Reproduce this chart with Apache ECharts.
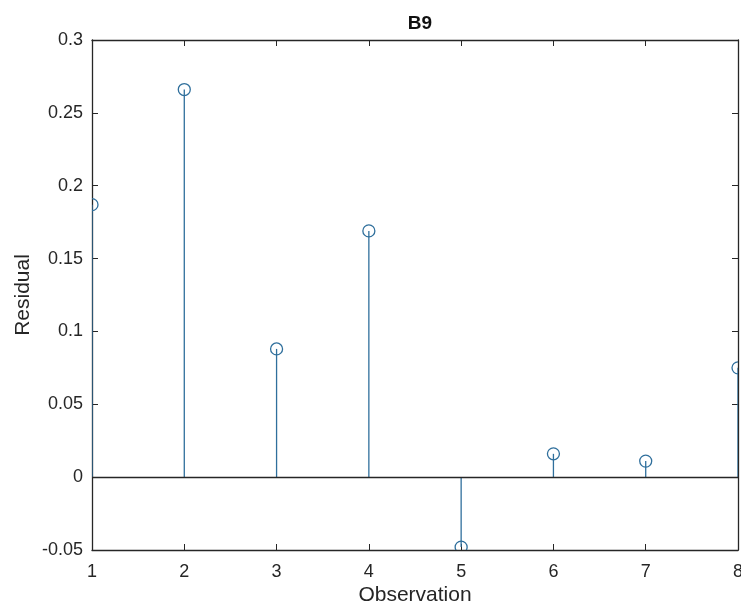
<!DOCTYPE html>
<html>
<head>
<meta charset="utf-8">
<script src="https://cdn.jsdelivr.net/npm/echarts@6/dist/echarts.min.js"></script>
<style>
html,body{margin:0;padding:0;background:#fff;}
#chart{width:741px;height:607px;}
</style>
</head>
<body>
<div id="chart"></div>
<script>
var observations = [1, 2, 3, 4, 5, 6, 7, 8];
var residuals = [0.187, 0.266, 0.088, 0.169, -0.048, 0.016, 0.011, 0.075];
var yTicks = [-0.05, 0, 0.05, 0.1, 0.15, 0.2, 0.25, 0.3];

var stemColor = '#2f6f9c';
var axisColor = '#262626';
var font = 'Liberation Sans, Arial, Helvetica, sans-serif';

var data = observations.map(function (x, i) { return [x, residuals[i]]; });

function axisCommon(extra) {
  var base = {
    axisLine: { show: true, onZero: false, lineStyle: { color: axisColor, width: 1.3 } },
    axisTick: { show: true, inside: true, length: 6, lineStyle: { color: axisColor } },
    splitLine: { show: false }
  };
  for (var k in extra) base[k] = extra[k];
  return base;
}

var chart = echarts.init(document.getElementById('chart'));
chart.setOption({
  animation: false,
  backgroundColor: '#ffffff',
  title: {
    text: 'B9',
    left: 415, top: 9, textAlign: 'center',
    textStyle: { fontFamily: font, fontSize: 19, fontWeight: 'bold', color: '#111' }
  },
  grid: { left: 92, right: 3, top: 40, bottom: 57, show: false, outerBoundsMode: 'none', containLabel: false },
  xAxis: [axisCommon({
    type: 'value', min: 1, max: 8, interval: 1, position: 'bottom',
    name: 'Observation', nameLocation: 'middle', nameGap: 35, nameMoveOverlap: false,
    nameTextStyle: { fontFamily: font, fontSize: 21, color: '#262626' },
    axisLabel: { fontFamily: font, fontSize: 18, color: '#262626', margin: 13 }
  }), axisCommon({
    type: 'value', min: 1, max: 8, interval: 1, position: 'top',
    axisLabel: { show: false }
  })],
  yAxis: [axisCommon({
    type: 'value', min: yTicks[0], max: yTicks[yTicks.length - 1], interval: 0.05, position: 'left',
    name: 'Residual', nameLocation: 'middle', nameGap: 58, nameRotate: 90, nameMoveOverlap: false,
    nameTextStyle: { fontFamily: font, fontSize: 21, color: '#262626' },
    axisLabel: {
      fontFamily: font, fontSize: 18, color: '#262626', margin: 9,
      formatter: function (v) { return String(parseFloat(v.toFixed(2))); }
    }
  }), axisCommon({
    type: 'value', min: yTicks[0], max: yTicks[yTicks.length - 1], interval: 0.05, position: 'right',
    axisLabel: { show: false }
  })],
  series: [{
    type: 'custom',
    xAxisIndex: 0, yAxisIndex: 0,
    clip: true,
    data: data,
    renderItem: function (params, api) {
      var x = api.value(0), y = api.value(1);
      var base = api.coord([x, 0]);
      var top = api.coord([x, y]);
      return {
        type: 'group',
        children: [{
          type: 'line',
          shape: { x1: base[0], y1: base[1], x2: top[0], y2: top[1] },
          style: { stroke: stemColor, lineWidth: 1.3 }
        }, {
          type: 'circle',
          shape: { cx: top[0], cy: top[1], r: 6 },
          style: { fill: 'none', stroke: stemColor, lineWidth: 1.3 }
        }]
      };
    },
    markLine: {
      silent: true, symbol: 'none', label: { show: false },
      lineStyle: { color: axisColor, width: 1.4, type: 'solid' },
      data: [{ yAxis: 0 }]
    },
    z: 3
  }]
});
</script>
</body>
</html>
